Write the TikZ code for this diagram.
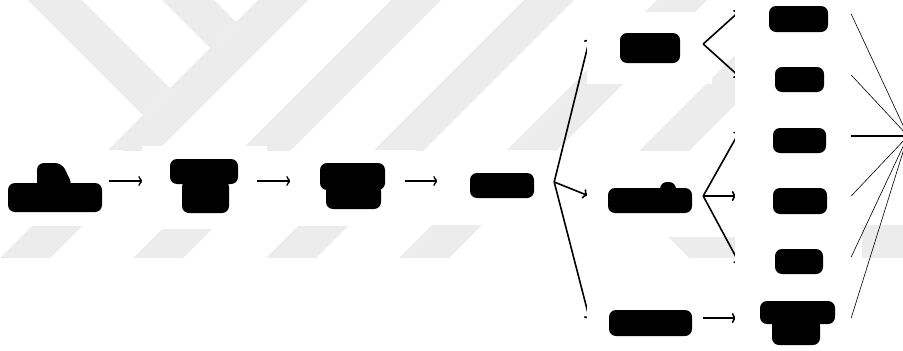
\documentclass[tikz,border=0pt]{standalone}
\usetikzlibrary{calc,arrows.meta}
\definecolor{wm}{RGB}{236,236,236}
\begin{document}
\begin{tikzpicture}[x=1pt,y=-1pt,
  cell/.style={draw=none, fill=none, inner sep=0pt},
  paper/.style={fill=white},
  blob/.style={fill=black, rounded corners=7pt},
  mainarrow/.style={draw=black, line width=1.3pt, -{To[length=5pt,width=10pt]}},
  fanarrow/.style={draw=black, line width=1.6pt, -{To[length=5pt,width=10pt]}},
  thinarrow/.style={draw=black, line width=0.6pt, -{To[length=4pt,width=7pt]}}]
\useasboundingbox (0,0) rectangle (903,351);
\clip (0,0) rectangle (903,351);
% watermark, upper part
\begin{scope}
  \clip (0,0) rectangle (903,150);
  \foreach \c in {258,391,524,657,790}
    \fill[wm] (\c,0) -- (\c+50,0) -- (\c+50-258,258) -- (\c-258,258) -- cycle;
  \fill[wm] (28,0) -- (82,0) -- (170,88) -- (143,115) -- cycle;
  \fill[wm] (162,0) -- (214,0) -- (236,22) -- (210,48) -- cycle;
\end{scope}
% watermark, lower part
\begin{scope}
  \clip (0,225) rectangle (903,258);
  \foreach \c in {258,391,524,657}
    \fill[wm] (\c,0) -- (\c+50,0) -- (\c+50-258,258) -- (\c-258,258) -- cycle;
  \fill[wm] (668,237) -- (735,237) -- (735,258) -- (689,258) -- cycle;
  \fill[wm] (862,220) -- (903,220) -- (903,258) -- (862,258) -- cycle;
\end{scope}
% node frames (named)
\node[cell, minimum width=122pt, minimum height=76pt] (A) at (61,188) {};
\node[cell, minimum width=125pt, minimum height=83pt] (B) at (204.5,187.5) {};
\node[cell, minimum width=126pt, minimum height=76pt] (C) at (353,188) {};
\node[cell, minimum width=116pt, minimum height=72pt] (D) at (495,186) {};
\node[cell, minimum width=125pt, minimum height=72pt] (E) at (649.5,48) {};
\node[cell, minimum width=125pt, minimum height=72pt] (F) at (649.5,201) {};
\node[cell, minimum width=125pt, minimum height=72pt] (G) at (649.5,321) {};
\node[cell, minimum width=127pt, minimum height=62pt] (H) at (798.5,19) {};
\node[cell, minimum width=127pt, minimum height=60pt] (I) at (798.5,80) {};
\node[cell, minimum width=127pt, minimum height=60pt] (J) at (798.5,140) {};
\node[cell, minimum width=127pt, minimum height=62pt] (L) at (798.5,201) {};
\node[cell, minimum width=127pt, minimum height=58pt] (M) at (798.5,261) {};
\node[cell, minimum width=127pt, minimum height=62pt] (N) at (798.5,321) {};
\coordinate (Z) at (908,136);
% first row, drawn in order so each box covers the tip reaching it
\fill[paper] (A.south west) rectangle (A.north east);
\fill[blob] (8,183) rectangle (102,212);
\fill[blob] (37,163) -- (62,163) -- (73,186) -- (37,190) -- cycle;
\draw[mainarrow] ($(A.east)+(-13,-7)$) -- ($(B.west)+(1.5,-6.5)$);
\fill[paper] (B.south west) rectangle (B.north east);
\fill[blob] (170,159) rectangle (238,184);
\fill[blob] (182,180) rectangle (229,213);
\draw[mainarrow] ($(B.east)+(-10,-6.5)$) -- ($(C.west)+(1.5,-7)$);
\fill[paper] (C.south west) rectangle (C.north east);
\fill[blob] (320,163) rectangle (385,190);
\fill[blob] (326,184) rectangle (381,209);
\draw[mainarrow] ($(C.east)+(-11,-7)$) -- ($(D.west)+(1.5,-5)$);
\fill[paper] (D.south west) rectangle (D.north east);
\fill[blob] (470,173) rectangle (534,198);
% fan from D
\draw[fanarrow] ($(D.east)+(1,-4)$) -- ($(E.west)+(3,-10)$);
\draw[fanarrow] ($(D.east)+(1,-4)$) -- ($(F.west)+(1,-5.5)$);
\draw[fanarrow] ($(D.east)+(1,-4)$) -- ($(G.west)+(3,-1)$);
% second column
\fill[paper] (E.south west) rectangle (E.north east);
\fill[blob] (620,33) rectangle (680,63);
\fill[paper] (F.south west) rectangle (F.north east);
\fill[blob] (608,188) rectangle (692,213);
\fill[blob] (660,182) rectangle (676,196);
\fill[paper] (G.south west) rectangle (G.north east);
\fill[blob] (609,310) rectangle (692,336);
% fans into third column
\draw[fanarrow] ($(E.east)+(-9,-4)$) -- ($(H.west)+(5,-8)$);
\draw[fanarrow] ($(E.east)+(-9,-4)$) -- ($(I.west)+(5,-3)$);
\draw[fanarrow] ($(F.east)+(-9,-5)$) -- ($(J.west)+(5,-9)$);
\draw[fanarrow] ($(F.east)+(-9,-5)$) -- ($(L.west)+(2,-5)$);
\draw[fanarrow] ($(F.east)+(-9,-5)$) -- ($(M.west)+(5,3)$);
\draw[fanarrow] ($(G.east)+(-9,-3)$) -- ($(N.west)+(2,-3)$);
% third column
\fill[paper] (H.south west) rectangle (H.north east);
\fill[blob] (769,6) rectangle (828,32);
\fill[paper] (I.south west) rectangle (I.north east);
\fill[blob] (775,67) rectangle (824,92);
\fill[paper] (J.south west) rectangle (J.north east);
\fill[blob] (773,128) rectangle (826,153);
\fill[paper] (L.south west) rectangle (L.north east);
\fill[blob] (773,188) rectangle (827,214);
\fill[paper] (M.south west) rectangle (M.north east);
\fill[blob] (775,249) rectangle (823,274);
\fill[paper] (N.south west) rectangle (N.north east);
\fill[blob] (760,301) rectangle (835,324);
\fill[blob] (772,318) rectangle (820,345);
% convergence
\draw[thinarrow] ($(H.east)+(-11,-5)$) -- (Z);
\draw[thinarrow] ($(I.east)+(-11,-5)$) -- (Z);
\draw[fanarrow] ($(J.east)+(-11,-4)$) -- (Z);
\draw[thinarrow] ($(L.east)+(-11,-5)$) -- (Z);
\draw[thinarrow] ($(M.east)+(-11,-4)$) -- (Z);
\draw[thinarrow] ($(N.east)+(-11,-3)$) -- (Z);
\end{tikzpicture}
\end{document}
